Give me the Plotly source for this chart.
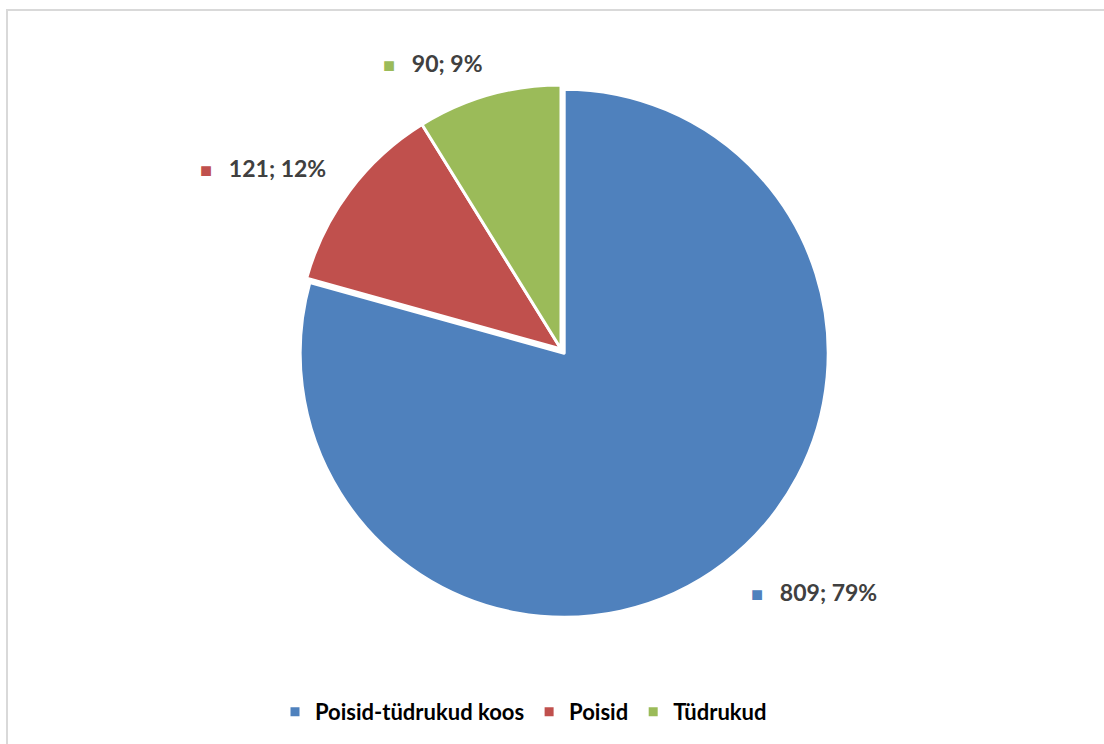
import plotly.graph_objects as go

# Jaotus: ühised, poiste ja tüdrukute rühmad
categories = ["Poisid-tüdrukud koos", "Poisid", "Tüdrukud"]
counts = [809, 121, 90]
colors = ["#4F81BD", "#C0504D", "#9BBB59"]

W, H = 1104, 744
total = sum(counts)

fig = go.Figure(
    go.Pie(
        labels=categories,
        values=counts,
        sort=False,
        direction="clockwise",
        rotation=0,
        pull=[0.02, 0, 0],
        marker=dict(colors=colors, line=dict(color="white", width=3)),
        textinfo="none",
        hoverinfo="label+value+percent",
        domain=dict(x=[291.7 / W, 830.3 / W], y=[1 - 618.3 / H, 1 - 79.7 / H]),
    )
)

# data labels "value; percent" with a coloured square marker
label_pos = [(749, 592), (198, 168), (381, 63)]
for cat, val, col, (px, py) in zip(categories, counts, colors, label_pos):
    pct = round(100 * val / total)
    fig.add_annotation(
        x=px / W, y=1 - py / H, xref="paper", yref="paper",
        xanchor="left", yanchor="middle", showarrow=False,
        text=f"<span style='color:{col};font-size:20px'>■</span>   {val}; {pct}%",
        font=dict(family="Lato", size=23, color="#404040", weight="bold"),
    )

# chart area border
fig.add_shape(
    type="rect", xref="paper", yref="paper",
    x0=7 / W, y0=1 - 10 / H, x1=1.02, y1=-0.02,
    line=dict(color="#D9D9D9", width=2), fillcolor="rgba(0,0,0,0)",
)

fig.update_layout(
    width=W, height=H,
    margin=dict(l=0, r=0, t=0, b=0),
    paper_bgcolor="white",
    plot_bgcolor="white",
    showlegend=True,
    legend=dict(
        orientation="h", x=275 / W, xanchor="left", y=1 - 712 / H, yanchor="middle",
        font=dict(family="Lato", size=22, color="#000000", weight="bold"),
        itemwidth=30, traceorder="normal",
    ),
)

fig.write_html("out.html")
